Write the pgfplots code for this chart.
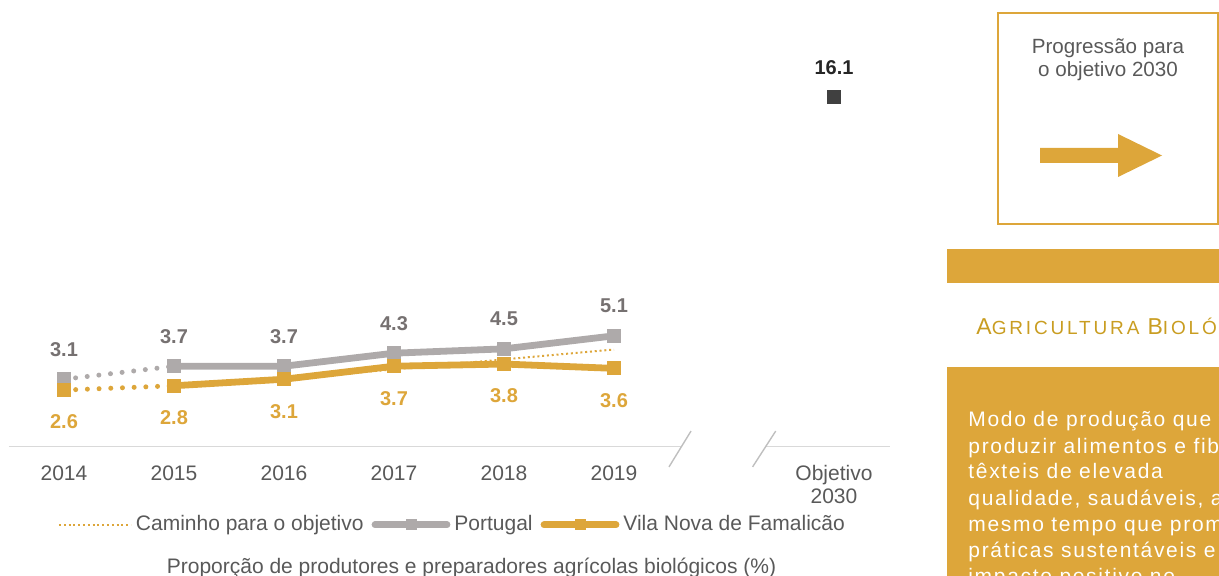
\documentclass[border=0pt]{standalone}
\usepackage{pgfplots}
\pgfplotsset{compat=1.18}
\usepackage{fontspec}
\setmainfont{Liberation Sans}

\definecolor{ouro}{RGB}{221,166,58}
\definecolor{ouroesc}{RGB}{201,157,33}
\definecolor{cinza}{RGB}{174,170,170}
\definecolor{cinzalab}{RGB}{118,113,113}
\definecolor{txt}{RGB}{89,89,89}
\definecolor{obj}{RGB}{64,64,64}
\definecolor{objlab}{RGB}{38,38,38}
\definecolor{eixo}{RGB}{217,217,217}
\definecolor{quebra}{RGB}{191,191,191}

\begin{document}
\begin{tikzpicture}
\begin{axis}[
  at={(4.5pt,-223.25pt)}, anchor=south west,
  scale only axis, width=440pt, height=206.15pt,
  xmin=-0.5, xmax=7.5, ymin=0, ymax=19,
  clip=false,
  axis line style={draw=none},
  tick style={draw=none},
  ytick=\empty,
  xtick={0,1,2,3,4,5,7},
  xticklabels={2014,2015,2016,2017,2018,2019,{Objetivo\\2030}},
  xticklabel style={anchor=north, inner sep=0pt, yshift=-9.25pt, align=center,
    font=\fontsize{10.5}{11.5}\selectfont, text=txt},
  /pgf/number format/assume math mode=true,
  legend columns=-1,
  legend style={at={(0.505,-0.19)}, anchor=center, draw=none, fill=none,
    font=\fontsize{10.5}{12}\selectfont, text=txt,
    /tikz/every even column/.append style={column sep=2pt}},
  legend image code/.code={\draw[mark repeat=2,mark phase=2,#1,mark size=2.5pt]
    plot coordinates {(0pt,0pt)(18pt,0pt)(36pt,0pt)};},
]
% linha do eixo com quebra
\draw[eixo, line width=0.9pt] (axis cs:-0.5,0) -- (axis cs:5.61,0);
\draw[eixo, line width=0.9pt] (axis cs:6.37,0) -- (axis cs:7.51,0);
\draw[quebra, line width=0.7pt] (axis cs:5.5,-0.94) -- (axis cs:5.7,0.71);
\draw[quebra, line width=0.7pt] (axis cs:6.26,-0.94) -- (axis cs:6.47,0.71);

% caminho para o objetivo
\addplot[ouro, line width=1pt, dash pattern=on 1pt off 1.4pt] coordinates {(2,3.1) (5,4.47)};
\addlegendentry{Caminho para o objetivo}

% Portugal
\addplot[forget plot, cinza, line width=2.5pt, line cap=round, dash pattern=on 0pt off 5.85pt]
  coordinates {(0,3.1) (1,3.7)};
\addplot[cinza, line width=3.4pt, line cap=round, mark=square*, mark size=3.3pt, mark options={solid, line width=0pt}]
  coordinates {(1,3.7) (2,3.7) (3,4.3) (4,4.5) (5,5.1)};
\addlegendentry{Portugal}
\addplot[forget plot, only marks, cinza, mark=square*, mark size=3.3pt, mark options={line width=0pt},
  nodes near coords,
  every node near coord/.append style={anchor=center, yshift=15pt, text=cinzalab,
    font=\bfseries\fontsize{10}{12}\selectfont}]
  coordinates {(0,3.1) (1,3.7) (2,3.7) (3,4.3) (4,4.5) (5,5.1)};

% Vila Nova de Famalicao
\addplot[forget plot, ouro, line width=2.5pt, line cap=round, dash pattern=on 0pt off 5.85pt]
  coordinates {(0,2.6) (1,2.8)};
\addplot[ouro, line width=3.4pt, line cap=round, mark=square*, mark size=3.3pt, mark options={solid, line width=0pt}]
  coordinates {(1,2.8) (2,3.1) (3,3.7) (4,3.8) (5,3.6)};
\addlegendentry{Vila Nova de Famalicão}
\addplot[forget plot, only marks, ouro, mark=square*, mark size=3.3pt, mark options={line width=0pt},
  nodes near coords,
  every node near coord/.append style={anchor=center, yshift=-16pt, text=ouro,
    font=\bfseries\fontsize{10}{12}\selectfont}]
  coordinates {(0,2.6) (1,2.8) (2,3.1) (3,3.7) (4,3.8) (5,3.6)};

% objetivo 2030
\addplot[forget plot, only marks, obj, mark=square*, mark size=3.3pt, mark options={line width=0pt},
  nodes near coords,
  every node near coord/.append style={anchor=center, yshift=15pt, text=objlab,
    font=\bfseries\fontsize{10}{12}\selectfont}]
  coordinates {(7,16.1)};
\end{axis}

\begin{scope}[x=0.5pt, y=-0.5pt]
\node[anchor=base, inner sep=0pt, text=txt, font=\fontsize{10.5}{12}\selectfont] at (471.5,573)
  {Proporção de produtores e preparadores agrícolas biológicos (\%)};

% painel direito
\draw[ouro, line width=0.8pt] (998,13) rectangle (1218,224);
\node[anchor=base, inner sep=0pt, text=txt, font=\fontsize{10.3}{12}\selectfont] at (1108,54) {Progressão para};
\node[anchor=base, inner sep=0pt, text=txt, font=\fontsize{10.3}{12}\selectfont] at (1108,77) {o objetivo 2030};
\fill[ouro] (1040,148) -- (1118,148) -- (1118,134) -- (1162,155.5) -- (1118,177) -- (1118,163) -- (1040,163) -- cycle;

\fill[ouro] (947,249) rectangle (1225,283);
\node[anchor=base west, inner sep=0pt, text=ouroesc] at (976,335)
  {\addfontfeature{LetterSpace=15}\fontsize{11.5}{14}\selectfont A\fontsize{9.5}{14}\selectfont GRICULTURA
   \fontsize{11.5}{14}\selectfont B\fontsize{9.5}{14}\selectfont IOLÓGICA};

\fill[ouro] (947,367) rectangle (1225,580);
\foreach \t [count=\k from 0] in {Modo de produção que visa, produzir alimentos e fibras,
    têxteis de elevada, {qualidade, saudáveis, ao}, mesmo tempo que promove,
    práticas sustentáveis e de, impacto positivo no}
  \node[anchor=base west, inner sep=0pt, text=white] at (968,427+26*\k)
    {\addfontfeature{LetterSpace=8}\fontsize{10.5}{13}\selectfont \t};

\pgfresetboundingbox
\path[use as bounding box] (0,0) rectangle (1219,576);
\end{scope}
\end{tikzpicture}
\end{document}
